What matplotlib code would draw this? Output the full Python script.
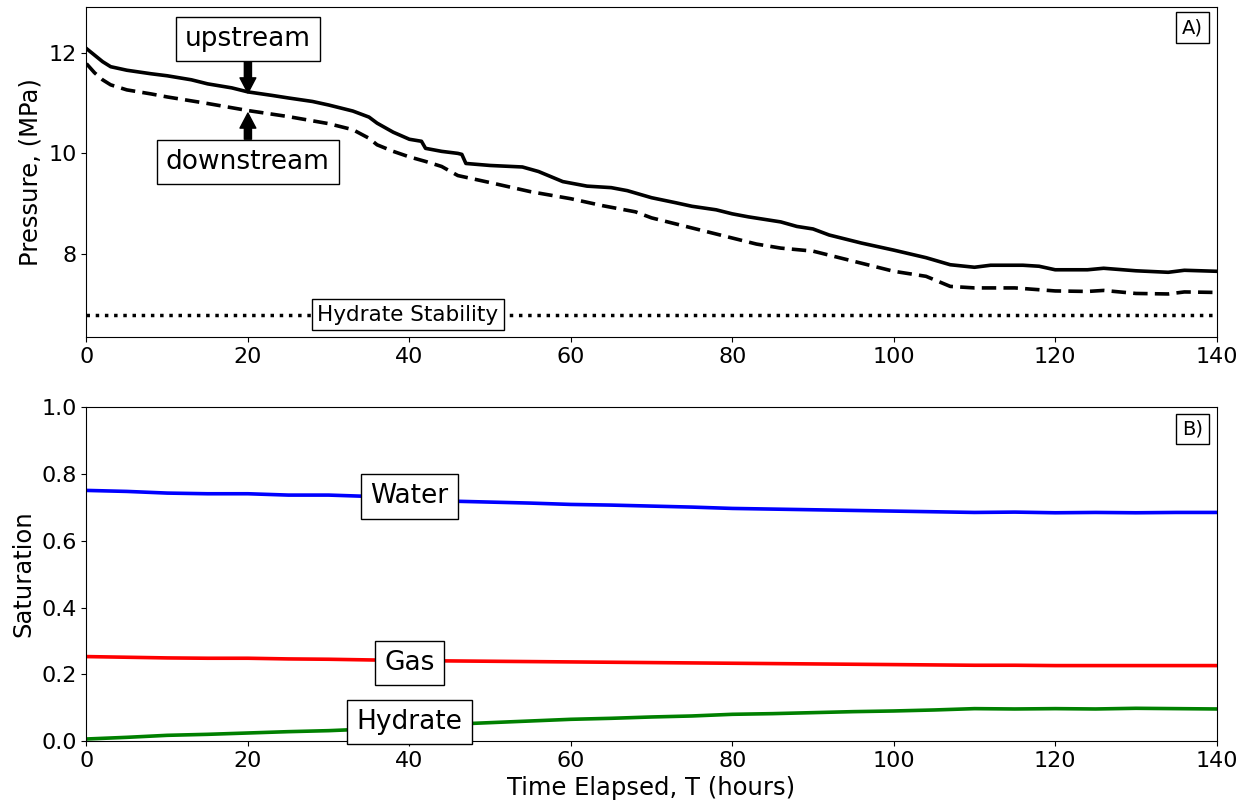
import matplotlib.pyplot as plt

# Pressure readings (MPa) vs elapsed time (hours)
t_up = [0, 1, 2, 3, 5, 8, 10, 13, 15, 18, 20, 23, 25, 28, 30, 32, 33, 35, 36, 38, 40,
        41.5, 42, 44, 46, 46.5, 47, 50, 54, 56, 59, 62, 65, 67, 70, 73, 75, 78, 80, 82,
        86, 88, 90, 92, 96, 100, 104, 107, 110, 112, 116, 118, 120, 124, 126, 130, 134,
        136, 140]
p_up = [12.08, 11.95, 11.82, 11.72, 11.65, 11.58, 11.54, 11.46, 11.38, 11.3, 11.22, 11.15,
        11.1, 11.03, 10.96, 10.88, 10.84, 10.72, 10.6, 10.42, 10.28, 10.24, 10.1, 10.04,
        10.0, 9.98, 9.8, 9.76, 9.73, 9.64, 9.44, 9.35, 9.32, 9.26, 9.12, 9.02, 8.95, 8.88,
        8.8, 8.74, 8.64, 8.55, 8.5, 8.38, 8.22, 8.08, 7.93, 7.79, 7.74, 7.78, 7.78, 7.76,
        7.69, 7.69, 7.72, 7.67, 7.64, 7.68, 7.66]

t_down = [0, 1, 2, 3, 5, 8, 10, 15, 20, 25, 30, 33, 35, 36, 38, 40, 42, 44, 46, 50, 55,
          60, 64, 68, 70, 75, 80, 83, 86, 90, 95, 100, 104, 107, 110, 115, 120, 124, 126,
          130, 134, 136, 140]
p_down = [11.78, 11.6, 11.46, 11.36, 11.26, 11.18, 11.12, 10.99, 10.85, 10.73, 10.59,
          10.47, 10.3, 10.17, 10.04, 9.93, 9.84, 9.74, 9.56, 9.42, 9.24, 9.1, 8.96, 8.84,
          8.72, 8.52, 8.32, 8.2, 8.12, 8.06, 7.86, 7.66, 7.56, 7.36, 7.33, 7.33, 7.27,
          7.26, 7.28, 7.22, 7.21, 7.25, 7.24]

p_hydrate_stability = 6.8

# Saturation vs elapsed time
t_sat = [0, 5, 10, 15, 20, 25, 30, 35, 40, 45, 50, 55, 60, 65, 70, 75, 80, 85, 90, 95,
         100, 105, 110, 115, 120, 125, 130, 135, 140]
s_water = [0.751, 0.748, 0.743, 0.741, 0.741, 0.737, 0.737, 0.733, 0.722, 0.719, 0.716,
           0.713, 0.709, 0.707, 0.704, 0.701, 0.697, 0.695, 0.693, 0.691, 0.689, 0.687,
           0.685, 0.686, 0.684, 0.685, 0.684, 0.685, 0.685]
s_gas = [0.253, 0.251, 0.249, 0.248, 0.248, 0.246, 0.245, 0.243, 0.241, 0.240, 0.239,
         0.238, 0.237, 0.236, 0.235, 0.234, 0.233, 0.232, 0.231, 0.230, 0.229, 0.228,
         0.227, 0.227, 0.226, 0.226, 0.226, 0.226, 0.226]
s_hydrate = [0.006, 0.011, 0.017, 0.020, 0.024, 0.028, 0.031, 0.036, 0.043, 0.050, 0.055,
             0.060, 0.065, 0.068, 0.072, 0.075, 0.080, 0.082, 0.085, 0.088, 0.090, 0.093,
             0.097, 0.096, 0.097, 0.096, 0.098, 0.097, 0.096]

box = dict(boxstyle='square,pad=0.35', facecolor='white', edgecolor='black', linewidth=1)
tag_box = dict(boxstyle='square,pad=0.3', facecolor='white', edgecolor='black', linewidth=1)
arrow = dict(arrowstyle='simple,head_width=0.6,head_length=0.57,tail_width=0.27',
             facecolor='black', edgecolor='black', shrinkA=0, shrinkB=0)

fig = plt.figure(figsize=(12.53, 8.05), dpi=100)
ax1 = fig.add_axes([0.069, 0.581, 0.902, 0.41])
ax2 = fig.add_axes([0.069, 0.0795, 0.902, 0.4145])

# A) pressure
ax1.plot(t_up, p_up, color='black', linewidth=2.6)
ax1.plot(t_down, p_down, color='black', linewidth=2.6, linestyle='--', dashes=(4, 2))
ax1.axhline(p_hydrate_stability, color='black', linewidth=2.5, linestyle=':')
ax1.text(39.8, p_hydrate_stability, 'Hydrate Stability', fontsize=15.5, ha='center',
         va='center', bbox=dict(boxstyle='square,pad=0.25', facecolor='white',
                                edgecolor='black', linewidth=1))
ax1.annotate('upstream', xy=(20, 11.2), xytext=(20, 12.27), fontsize=19, ha='center',
             va='center', bbox=box, arrowprops=arrow)
ax1.annotate('downstream', xy=(20, 10.8), xytext=(20, 9.83), fontsize=19, ha='center',
             va='center', bbox=box, arrowprops=arrow)
ax1.text(0.988, 0.967, 'A)', transform=ax1.transAxes, fontsize=14, ha='right', va='top',
         bbox=tag_box)
ax1.set_xlim(0, 140)
ax1.set_ylim(6.35, 12.9)
ax1.set_yticks([8, 10, 12])
ax1.set_ylabel('Pressure, (MPa)', fontsize=17.5)

# B) saturation
ax2.plot(t_sat, s_water, color='blue', linewidth=2.6)
ax2.plot(t_sat, s_gas, color='red', linewidth=2.6)
ax2.plot(t_sat, s_hydrate, color='green', linewidth=2.6)
ax2.text(40, 0.733, 'Water', fontsize=19, ha='center', va='center', bbox=box)
ax2.text(40, 0.234, 'Gas', fontsize=19, ha='center', va='center', bbox=box)
ax2.text(40, 0.057, 'Hydrate', fontsize=19, ha='center', va='center', bbox=box)
ax2.text(0.988, 0.964, 'B)', transform=ax2.transAxes, fontsize=14, ha='right', va='top',
         bbox=tag_box)
ax2.set_xlim(0, 140)
ax2.set_ylim(0, 1)
ax2.set_ylabel('Saturation', fontsize=17.5)
ax2.set_xlabel('Time Elapsed, T (hours)', fontsize=17.5)

for ax in (ax1, ax2):
    ax.tick_params(labelsize=16)

fig.savefig('out.png', dpi=100)
